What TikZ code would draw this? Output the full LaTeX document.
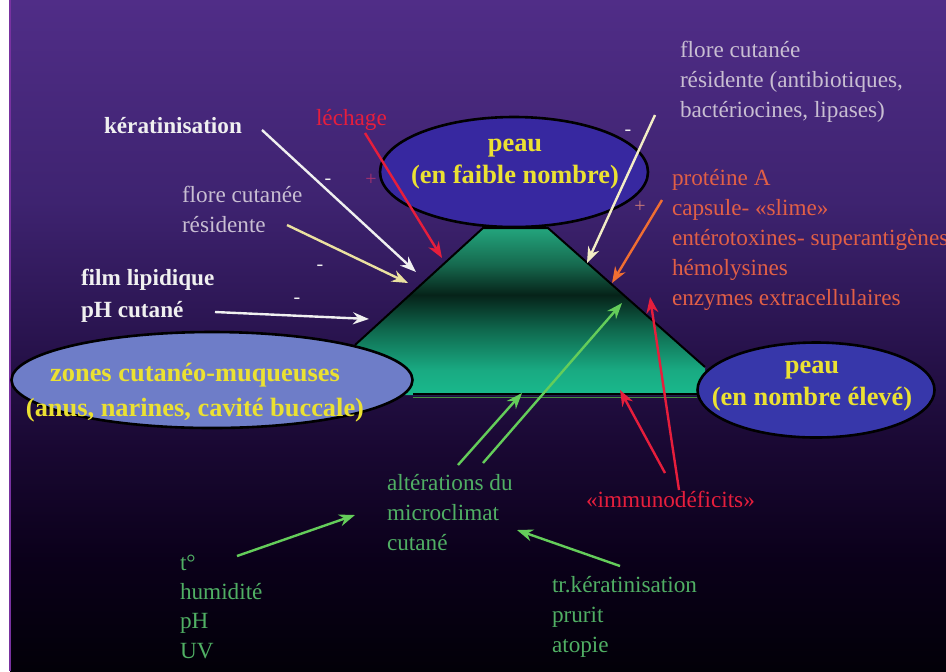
\documentclass[tikz,border=0pt]{standalone}
\usepackage{fontspec}
\setmainfont{Liberation Serif}
\usetikzlibrary{shapes.geometric,arrows.meta}
\definecolor{bgA}{RGB}{2,0,8}
\definecolor{bgB}{RGB}{10,0,25}
\definecolor{bgC}{RGB}{25,8,50}
\definecolor{bgD}{RGB}{42,20,80}
\definecolor{bgE}{RGB}{62,35,112}
\definecolor{bgF}{RGB}{80,45,135}
\definecolor{trA}{RGB}{25,185,140}
\definecolor{trB}{RGB}{25,170,130}
\definecolor{trC}{RGB}{15,105,78}
\definecolor{trD}{RGB}{6,35,25}
\definecolor{trE}{RGB}{22,105,78}
\definecolor{trF}{RGB}{35,165,125}
\definecolor{wtxt}{RGB}{240,240,240}
\definecolor{gtxt}{RGB}{200,190,210}
\definecolor{redc}{RGB}{230,30,60}
\definecolor{otxt}{RGB}{225,95,70}
\definecolor{oarr}{RGB}{240,110,50}
\definecolor{grtxt}{RGB}{80,175,100}
\definecolor{grarr}{RGB}{100,205,90}
\definecolor{cream}{RGB}{235,225,160}
\definecolor{yel}{RGB}{235,225,50}
\definecolor{topblue}{RGB}{55,40,160}
\definecolor{leftblue}{RGB}{110,125,200}
\definecolor{rightblue}{RGB}{55,55,170}
\definecolor{edgepurple}{RGB}{120,50,160}
\definecolor{signred}{RGB}{170,50,110}
\definecolor{signor}{RGB}{200,120,120}
\pgfdeclareverticalshading{bgshade}{100bp}{color(0bp)=(bgA); color(25bp)=(bgA); color(33bp)=(bgB); color(41.5bp)=(bgC); color(50.4bp)=(bgD); color(60bp)=(bgE); color(75bp)=(bgF); color(100bp)=(bgF)}
\pgfdeclareverticalshading{trapshade}{100bp}{color(0bp)=(trA); color(25bp)=(trA); color(32.5bp)=(trB); color(44.5bp)=(trC); color(55bp)=(trD); color(64bp)=(trE); color(75bp)=(trF); color(100bp)=(trF)}
\begin{document}
\begin{tikzpicture}[x=0.5pt,y=-0.5pt,
  txt/.style={inner sep=0pt, outer sep=0pt, align=left, anchor=north west,
    font=\fontsize{11.6}{15}\selectfont, execute at begin node=\strut},
  boldtxt/.style={txt, font=\fontsize{11.6}{15}\bfseries\selectfont},
  blob/.style={ellipse, draw=black, line width=1.3pt, inner sep=0pt},
  eltxt/.style={inner sep=0pt, align=center, anchor=north, text=yel,
    font=\fontsize{13.2}{16}\bfseries\selectfont, execute at begin node=\strut},
  arr/.style={line width=1.2pt, -{Stealth[length=8pt,width=6pt]}},
  sign/.style={inner sep=0pt, font=\fontsize{10}{12}\selectfont}
]
\useasboundingbox (0,0) rectangle (946,671);
% background
\fill[white] (0,0) rectangle (10,671);
\shade[shading=bgshade] (10,0) rectangle (946,671);
\draw[edgepurple, line width=0.8pt] (10,0) -- (10,671);

% central trapezoid
\path[shading=trapshade] (483,228) -- (548,228) -- (705,367) -- (705,395) -- (355,395) -- (355,345) -- cycle;
\draw[black, line width=1pt] (355,345) -- (483,228) -- (548,228) -- (705,367);
\draw[black, line width=1.2pt] (413,394) -- (697,394);
\draw[grarr!70!black, line width=0.6pt] (413,397.5) -- (697,397.5);

% ellipses
\node[blob, fill=topblue, minimum width=134pt, minimum height=55pt] (peauA) at (514,172) {};
\node[eltxt] (peauAt) at (515,139) {peau\\(en faible nombre)};
\node[blob, fill=leftblue, minimum width=200.5pt, minimum height=48pt] (zones) at (212,380) {};
\node[eltxt, font=\fontsize{13.2}{17.5}\bfseries\selectfont] (zonest) at (195,363) {zones cutanéo-muqueuses\\(anus, narines, cavité buccale)};
\node[blob, fill=rightblue, minimum width=118.5pt, minimum height=47.5pt] (peauB) at (816,390) {};
\node[eltxt] (peauBt) at (812,361) {peau\\(en nombre élevé)};

% texts
\node[boldtxt, text=wtxt] (kera) at (104,112) {kératinisation};
\node[txt, text=redc] (lech) at (316,104) {léchage};
\node[txt, text=gtxt] (floreA) at (182,186) {flore cutanée\\résidente};
\node[boldtxt, text=wtxt, font=\fontsize{11.6}{16}\bfseries\selectfont] (film) at (81,269) {film lipidique\\pH cutané};
\node[txt, text=gtxt] (floreB) at (680,41) {flore cutanée\\résidente (antibiotiques,\\bactériocines, lipases)};
\node[txt, text=otxt] (prot) at (672,169) {protéine A\\capsule- «slime»\\entérotoxines- superantigènes\\hémolysines\\enzymes extracellulaires};
\node[txt, text=grtxt] (alter) at (387,474) {altérations du\\microclimat\\cutané};
\node[txt, text=redc] (immu) at (586,486) {«immunodéficits»};
\node[txt, text=grtxt, font=\fontsize{11.6}{14.6}\selectfont] (temp) at (180,555) {t°\\humidité\\pH\\UV};
\node[txt, text=grtxt] (trk) at (552,576) {tr.kératinisation\\prurit\\atopie};

% signs
\node[sign, text=wtxt] (s1) at (328,182) {-};
\node[sign, text=signred] (s2) at (371,180) {+};
\node[sign, text=wtxt] (s3) at (320,268) {-};
\node[sign, text=wtxt] (s4) at (297,301) {-};
\node[sign, text=wtxt] (s5) at (628,133) {-};
\node[sign, text=signor] (s6) at (640,207) {+};

% arrow end points
\coordinate (a1t) at (262,130); \coordinate (a1h) at (416,272);
\coordinate (a2t) at (287,225); \coordinate (a2h) at (408,283);
\coordinate (a3t) at (215,312); \coordinate (a3h) at (369,319);
\coordinate (a4t) at (365,133); \coordinate (a4h) at (442,258);
\coordinate (a5t) at (655,115); \coordinate (a5h) at (587,263);
\coordinate (a6t) at (662,200); \coordinate (a6h) at (612,283);
\coordinate (a7t) at (458,465); \coordinate (a7h) at (522,393);
\coordinate (a8t) at (483,463); \coordinate (a8h) at (622,303);
\coordinate (a9t) at (665,473); \coordinate (a9h) at (620,390);
\coordinate (a10t) at (679,490); \coordinate (a10h) at (650,297);
\coordinate (a11t) at (237,556); \coordinate (a11h) at (355,515);
\coordinate (a12t) at (620,566); \coordinate (a12h) at (517,530);

\draw[arr, wtxt] (a1t) -- (a1h);
\draw[arr, cream] (a2t) -- (a2h);
\draw[arr, wtxt] (a3t) -- (a3h);
\draw[arr, redc] (a4t) -- (a4h);
\draw[arr, cream!60!white] (a5t) -- (a5h);
\draw[arr, oarr] (a6t) -- (a6h);
\draw[arr, grarr] (a7t) -- (a7h);
\draw[arr, grarr] (a8t) -- (a8h);
\draw[arr, redc] (a9t) -- (a9h);
\draw[arr, redc] (a10t) -- (a10h);
\draw[arr, grarr] (a11t) -- (a11h);
\draw[arr, grarr] (a12t) -- (a12h);
\end{tikzpicture}
\end{document}
